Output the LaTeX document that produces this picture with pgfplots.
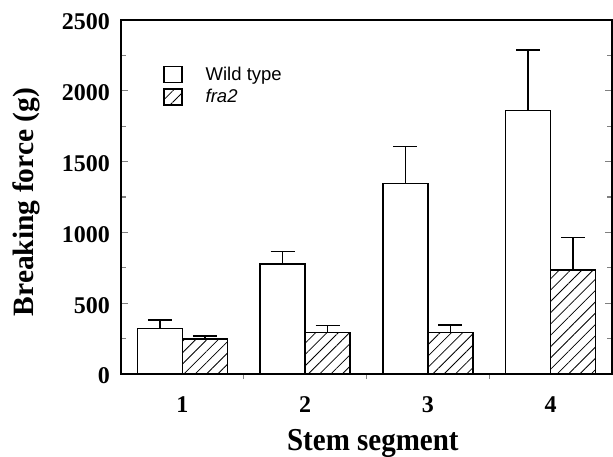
\documentclass[border=0pt]{standalone}
\usepackage{fontspec}
\setmainfont{Liberation Serif}
\newfontfamily\helv{Liberation Sans}
\usepackage{pgfplots}
\pgfplotsset{compat=1.18}
\usetikzlibrary{patterns.meta}
\begin{document}
\begin{tikzpicture}
\path[use as bounding box] (-121pt,-82pt) rectangle (492pt,374pt);
\begin{axis}[
  at={(0,0)}, anchor=south west,
  scale only axis, width=491pt, height=354pt,
  xmin=0.5, xmax=4.5, ymin=0, ymax=2500,
  ybar=0pt, bar width=45pt,
  legend image code/.code={\draw[#1, line width=1.5pt] (0pt,-8pt) rectangle (18pt,8pt);},
  axis line style={line width=1.5pt},
  xtick={1,2,3,4},
  minor xtick={1.5,2.5,3.5},
  major x tick style={draw=none},
  minor x tick style={yshift=-5pt, line width=1.2pt},
  xtick pos=left,
  ytick={0,500,...,2500},
  minor y tick num=1,
  ytick pos=both,
  tick align=inside,
  major tick length=7pt, minor tick length=5pt,
  y tick style={line width=1.2pt},
  /pgf/number format/assume math mode=true,
  /pgf/number format/1000 sep={},
  tick label style={font=\bfseries\fontsize{24}{24}\selectfont, inner sep=0pt},
  yticklabel style={inner xsep=11pt, yshift=-2pt},
  xticklabel style={anchor=base, yshift=-38pt},
  xlabel={Stem segment},
  xlabel style={at={(axis description cs:0.513,-0.2147)}, anchor=base, font=\bfseries\fontsize{29}{29}\selectfont, yscale=1.1, inner sep=0pt},
  ylabel={Breaking force (g)},
  ylabel style={at={(axis description cs:-0.1792,0.486)}, anchor=base, font=\bfseries\fontsize{29.5}{29.5}\selectfont, inner sep=0pt},
  legend style={at={(axis description cs:0.0855,0.872)}, anchor=north west, draw=none, fill=none,
    font=\helv\fontsize{18.5}{18.5}\selectfont, inner sep=0pt, row sep=5pt, column sep=23pt,
    nodes={inner sep=0pt}},
  legend cell align=left,
  error bars/error bar style={line width=1.5pt},
  error bars/error mark options={rotate=90, mark size=12pt, line width=1.5pt},
]
\addplot[draw=black, fill=white, line width=1.5pt,
  error bars/.cd, y dir=plus, y explicit]
  coordinates {(1,320) +- (0,61) (2,778) +- (0,86) (3,1347) +- (0,261) (4,1860) +- (0,428)};
\addlegendentry{Wild type}
\addplot[draw=black, line width=1.5pt, pattern={Lines[angle=45,distance=8pt,line width=0.8pt]},
  error bars/.cd, y dir=plus, y explicit]
  coordinates {(1,247) +- (0,23) (2,292) +- (0,49) (3,292) +- (0,54) (4,734) +- (0,231)};
\addlegendentry{\itshape fra2}
\end{axis}
\end{tikzpicture}
\end{document}
